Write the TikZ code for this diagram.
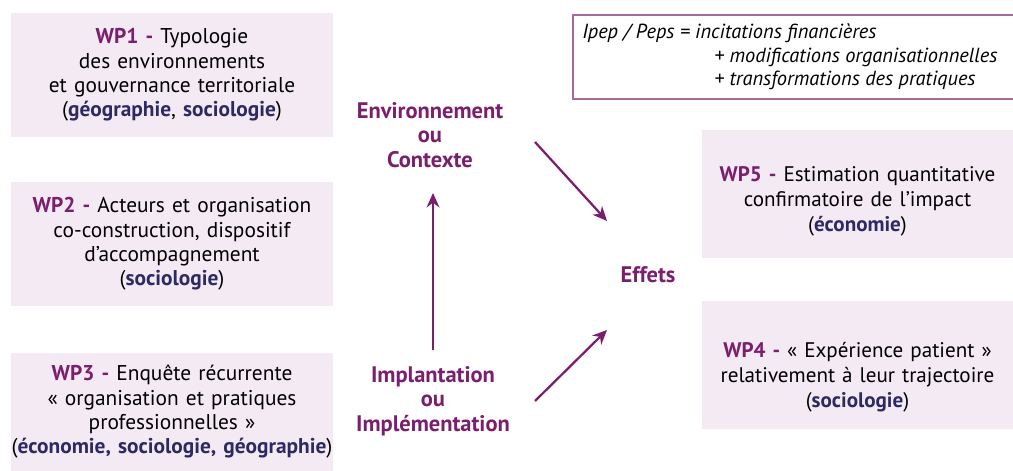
\documentclass[tikz,border=0pt]{standalone}
\usepackage{fontspec}
\setmainfont{PT Sans}
\usepackage{xcolor}
\usepackage{tikz}
\usetikzlibrary{arrows.meta, positioning}

\definecolor{wpfill}{HTML}{F4EAF4}
\definecolor{wppurple}{HTML}{7A1E6E}
\definecolor{wpnavy}{HTML}{2D2A63}
\definecolor{noteline}{HTML}{A56A9E}

\newcommand{\wplabel}[1]{\textcolor{wppurple}{\textbf{#1 -}}}
\newcommand{\disc}[1]{\textcolor{wpnavy}{\textbf{#1}}}
\newcommand{\lift}[1]{\rule{0pt}{#1}}

\begin{document}
\begin{tikzpicture}[x=0.025cm, y=-0.025cm,
    wpbox/.style={rectangle, fill=wpfill, text width=8.05cm, align=center, minimum width=8.05cm, minimum height=3.1cm, inner sep=0pt, font=\fontsize{15.2}{17.3}\selectfont},
    wpboxr/.style={wpbox, text width=7.5cm, minimum width=7.775cm, minimum height=3.2cm, font=\fontsize{15}{18}\selectfont},
    phase/.style={align=center, text=wppurple, font=\fontsize{16}{17.3}\selectfont\bfseries},
    line/.style={draw=wppurple, -{Stealth[length=3.6mm, width=3.2mm]}, line width=1.6pt}]

    \useasboundingbox (0,0) rectangle (1013,471);

    % work packages, left column
    \node [wpbox] (wp1) at (172,75) {\wplabel{WP1} Typologie\\des environnements\\et gouvernance territoriale\\(\disc{géographie}, \disc{sociologie})};
    \node [wpbox] (wp2) at (172,244) {\wplabel{WP2} Acteurs et organisation\\co-construction, dispositif\\d'accompagnement\\(\disc{sociologie})};
    \node [wpbox, minimum height=2.95cm] (wp3) at (172,412) {\wplabel{WP3} Enquête récurrente\\« organisation et pratiques\\professionnelles »\\(\disc{économie, sociologie, géographie})};

    % work packages, right column
    \node [wpboxr] (wp5) at (857.5,194) {\lift{0.75cm}\wplabel{WP5} Estimation quantitative\\confirmatoire de l'impact\\(\disc{économie})};
    \node [wpboxr] (wp4) at (857.5,365) {\lift{1cm}\wplabel{WP4} « Expérience patient »\\relativement à leur trajectoire\\(\disc{sociologie})};

    % note box
    \draw [noteline, line width=0.8pt] (1014,15) -- (573,15) -- (573,99) -- (1014,99);
    \node [anchor=north west, inner sep=0pt, align=left, font=\fontsize{14.5}{16.5}\selectfont\itshape] (note) at (582,24)
      {Ipep / Peps = incitations financières\\
       \hspace*{3.3cm}+ modifications organisationnelles\\
       \hspace*{3.3cm}+ transformations des pratiques};

    % phases
    \node [phase] (env) at (430,135) {Environnement\\ou\\Contexte};
    \node [phase] (impl) at (433,401) {Implantation\\ou\\Implémentation};
    \node [phase] (eff) at (648,275) {Effets};

    \coordinate (implup) at (433,350);
    \coordinate (envdown) at (433,193);
    \coordinate (envin) at (535,142);
    \coordinate (envout) at (607,221);
    \coordinate (implin) at (535,401);
    \coordinate (implout) at (607,330);

    \path [line] (implup) -- (envdown);
    \path [line] (envin) -- (envout);
    \path [line] (implin) -- (implout);
\end{tikzpicture}
\end{document}
